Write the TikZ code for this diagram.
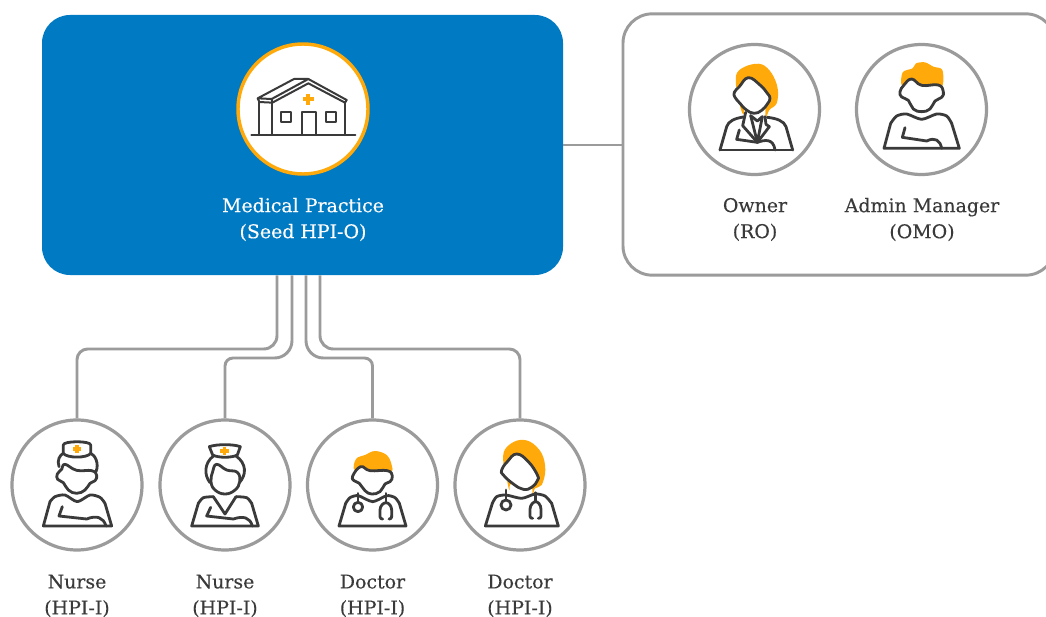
\documentclass[tikz,border=0pt]{standalone}
\usepackage{fontspec}
\setmainfont[FakeBold=0.2]{DejaVu Serif}
\definecolor{blueb}{HTML}{007AC3}
\definecolor{orangeb}{HTML}{FFA90A}
\definecolor{greyl}{HTML}{9B9B9B}
\definecolor{inkd}{HTML}{3A3A3A}
\tikzset{
  ring/.style={circle,draw=greyl,line width=2.4pt,fill=white,minimum size=97.5pt,inner sep=0pt},
  hub/.style={circle,draw=orangeb,line width=2.6pt,fill=white,minimum size=97.5pt,inner sep=0pt},
  link/.style={draw=greyl,line width=2.2pt},
  ink/.style={draw=inkd,line width=2.1pt,line join=round,line cap=round},
  thin ink/.style={draw=inkd,line width=1.5pt,line join=round,line cap=round},
  face/.style={ink,fill=white},
  hairfill/.style={fill=orangeb,draw=none},
  lab/.style={align=center,font=\fontsize{14.2pt}{19.5pt}\selectfont,text=inkd,inner sep=0pt},
  zoomA/.style={shift={(#1)},x=.25pt,y=-.25pt},
}
\newcommand{\medcross}[3]{\fill[orangeb] (#1-#3,#2-2.8*#3/8) rectangle (#1+#3,#2+2.8*#3/8);
  \fill[orangeb] (#1-2.8*#3/8,#2-#3) rectangle (#1+2.8*#3/8,#2+#3);}
\begin{document}
\begin{tikzpicture}[x=.75pt,y=-.75pt]
\useasboundingbox (0,0) rectangle (1046,617);
\fill[white] (0,0) rectangle (1046,617);
% main boxes
\node[fill=blueb,rounded corners=21pt,minimum width=390.75pt,minimum height=195pt,inner sep=0pt] (practice) at (302.5,145) {};
\node[draw=greyl,line width=2.2pt,fill=white,rounded corners=22pt,minimum width=324pt,minimum height=196pt,inner sep=0pt] (people) at (839,144.5) {};
\draw[link] (practice.east |- 0,145) -- (people.west |- 0,145);
% circles
\node[hub] (house) at (303,109) {};
\node[ring] (owner) at (754.5,109.5) {};
\node[ring] (admin) at (921.5,109.5) {};
\node[ring] (n1) at (77,485) {};
\node[ring] (n2) at (225,485) {};
\node[ring] (d1) at (372.5,485) {};
\node[ring] (d2) at (520,485) {};
% connectors
\coordinate (k1) at (277,349);
\coordinate (k2) at (292,358);
\coordinate (k3) at (306,358);
\coordinate (k4) at (320,349);
\draw[link,rounded corners=10pt] (practice.south -| k1) -- (k1) [rounded corners=8pt] -- (k1 -| n1.north) -- (n1.north);
\draw[link,rounded corners=13pt] (practice.south -| k2) -- (k2) [rounded corners=6pt] -- (k2 -| n2.north) -- (n2.north);
\draw[link,rounded corners=13pt] (practice.south -| k3) -- (k3) [rounded corners=6pt] -- (k3 -| d1.north) -- (d1.north);
\draw[link,rounded corners=10pt] (practice.south -| k4) -- (k4) [rounded corners=8pt] -- (k4 -| d2.north) -- (d2.north);
% labels
\node[lab,text=white] (tp) at (303,219.5) {Medical Practice\\(Seed HPI-O)};
\node[lab] (to) at (755,219.5) {Owner\\(RO)};
\node[lab] (ta) at (922,219.5) {Admin Manager\\(OMO)};
\node[lab] (t1) at (77,596) {Nurse\\(HPI-I)};
\node[lab] (t2) at (225,596) {Nurse\\(HPI-I)};
\node[lab] (t3) at (372.5,596) {Doctor\\(HPI-I)};
\node[lab] (t4) at (520,596) {Doctor\\(HPI-I)};
% house
\begin{scope}[zoomA={220,30}]
\draw[thin ink] (94,315) -- (406,315);
\draw[thin ink] (155,207) -- (113,205) -- (222,147) -- (265,147) -- (380,210) -- (375,218) -- (265,160) -- (157,218) -- (118,216) -- (113,205);
\draw[thin ink] (155,207) -- (265,147);
\draw[thin ink] (155,207) -- (157,218);
\draw[thin ink] (118,216) -- (118,315) (157,216) -- (157,315) (375,218) -- (375,315);
\draw[thin ink] (245,315) -- (245,245) -- (287,245) -- (287,315);
\draw[thin ink] (182,245) rectangle (212,275) (319,245) rectangle (349,275);
\medcross{265}{208}{17}
\end{scope}
% owner and admin
\begin{scope}[zoomA={680,35}]
\fill[hairfill] plot[smooth cycle,tension=.6] coordinates {(168,150) (172,112) (205,91) (245,88) (275,115) (293,160) (290,205) (268,225) (256,250) (252,210) (200,210) (190,238) (178,205)};
\draw[face] plot[smooth cycle,tension=.75] coordinates {(205,128) (240,150) (262,175) (270,190) (262,207) (245,226) (222,235) (198,224) (180,205) (165,187) (163,172) (178,155)};
\draw[ink] (120,345) -- (140,275) .. controls (145,258) and (165,250) .. (190,246);
\draw[ink] (338,345) -- (318,275) .. controls (312,258) and (290,250) .. (262,247);
\draw[ink] (120,345) -- (338,345);
\draw[ink] (197,232) -- (188,272) -- (232,322) -- (268,275) -- (258,268) -- (255,245);
\draw[ink] (212,242) -- (232,322) -- (247,245);
\draw[ink] (212,242) -- (232,258) -- (247,245);
\draw[ink] (178,285) -- (170,313) -- (232,322) .. controls (255,314) and (280,310) .. (285,345);
% admin
\fill[hairfill] plot[smooth cycle,tension=.5] coordinates {(668,155) (668,112) (698,100) (708,85) (735,82) (760,95) (787,105) (785,155) (730,158)};
\draw[face] plot[smooth cycle,tension=.75] coordinates {(695,132) (725,151) (775,150) (790,170) (785,187) (765,198) (750,222) (725,230) (700,222) (685,196) (665,186) (660,170) (672,150)};
\draw[ink] plot[smooth,tension=.45] coordinates {(632,265) (650,243) (680,237) (725,253) (770,237) (800,243) (815,265)};
\draw[ink] (632,265) -- (612,340) -- (838,340) -- (815,265);
\draw[ink] (675,278) -- (667,307) -- (740,318) .. controls (765,306) and (780,315) .. (785,340);
\end{scope}
% nurses
\begin{scope}[zoomA={0,410}]
\draw[ink] (177,170) .. controls (170,150) and (180,135) .. (190,130);
\draw[ink] (288,185) .. controls (298,160) and (285,135) .. (272,130);
\draw[face] (190,130) -- (190,105) .. controls (190,92) and (272,92) .. (272,105) -- (272,130) .. controls (262,145) and (200,145) .. (190,130) -- cycle;
\medcross{231}{117}{13}
\draw[face] plot[smooth cycle,tension=.75] coordinates {(195,163) (230,181) (275,182) (290,196) (285,212) (270,220) (255,240) (230,250) (205,240) (190,218) (173,208) (172,192) (185,178)};
\draw[ink] plot[smooth,tension=.45] coordinates {(150,275) (165,260) (195,255) (232,275) (270,255) (300,262) (315,280)};
\draw[ink] (150,275) -- (130,348) -- (335,348) -- (315,280);
\draw[ink] (187,290) -- (177,318) -- (260,327) .. controls (290,315) and (310,322) .. (318,348);
% nurse two
\draw[ink] (640,138) .. controls (612,160) and (612,195) .. (630,218);
\draw[ink] (708,138) .. controls (740,160) and (740,195) .. (718,218);
\draw[face] (628,110) .. controls (650,102) and (700,102) .. (721,110) -- (712,135) .. controls (695,144) and (655,144) .. (638,135) -- cycle;
\medcross{674}{123}{13}
\draw[face] plot[smooth cycle,tension=.75] coordinates {(650,163) (680,180) (712,187) (719,215) (705,240) (675,252) (645,240) (633,215) (638,185)};
\draw[ink] plot[smooth,tension=.45] coordinates {(595,280) (610,263) (640,260)};
\draw[ink] plot[smooth,tension=.45] coordinates {(708,260) (740,263) (755,280)};
\draw[ink] (640,260) -- (675,312) -- (708,260);
\draw[ink] (595,280) -- (575,348) -- (775,348) -- (755,280);
\draw[ink] (632,292) -- (620,318) -- (700,327) .. controls (730,317) and (750,322) .. (757,348);
\end{scope}
% doctors
\begin{scope}[zoomA={300,410}]
\fill[hairfill] plot[smooth cycle,tension=.6] coordinates {(165,182) (168,147) (195,135) (225,123) (260,135) (275,165) (272,186) (220,190)};
\draw[face] plot[smooth cycle,tension=.75] coordinates {(182,170) (210,182) (262,182) (277,198) (270,215) (255,222) (240,245) (215,252) (195,242) (178,220) (162,212) (158,198)};
\draw[ink] plot[smooth,tension=.45] coordinates {(137,280) (150,263) (175,257) (218,275) (260,257) (285,263) (298,280)};
\draw[ink] (137,280) -- (117,348) -- (318,348) -- (298,280);
\draw[ink] (174,250) -- (174,277);
\draw[ink,fill=white] (174,291) circle[radius=14];
\draw[ink] (258,250) -- (258,278);
\draw[ink] (248,327) .. controls (238,327) and (240,320) .. (240,300) .. controls (240,288) and (250,278) .. (258,278) .. controls (266,278) and (275,288) .. (275,300) .. controls (275,320) and (277,327) .. (267,327);
% doctor two
\fill[hairfill] plot[smooth cycle,tension=.6] coordinates {(610,158) (615,118) (650,92) (690,95) (725,130) (736,180) (725,225) (705,235) (697,258) (692,225) (635,220) (628,240) (620,205)};
\draw[face] plot[smooth cycle,tension=.75] coordinates {(650,132) (685,155) (712,195) (712,212) (695,232) (670,238) (640,222) (610,195) (605,180) (622,155)};
\draw[ink] plot[smooth,tension=.45] coordinates {(577,280) (590,260) (618,255) (665,265) (705,252) (735,258) (755,280)};
\draw[ink] (577,280) -- (556,348) -- (775,348) -- (755,280);
\draw[ink] (618,240) -- (618,271);
\draw[ink,fill=white] (618,285) circle[radius=15];
\draw[ink] (707,248) -- (707,275);
\draw[ink] (698,325) .. controls (688,325) and (690,318) .. (690,298) .. controls (690,285) and (700,275) .. (707,275) .. controls (714,275) and (723,285) .. (723,298) .. controls (723,318) and (725,325) .. (715,325);
\end{scope}
\end{tikzpicture}
\end{document}
